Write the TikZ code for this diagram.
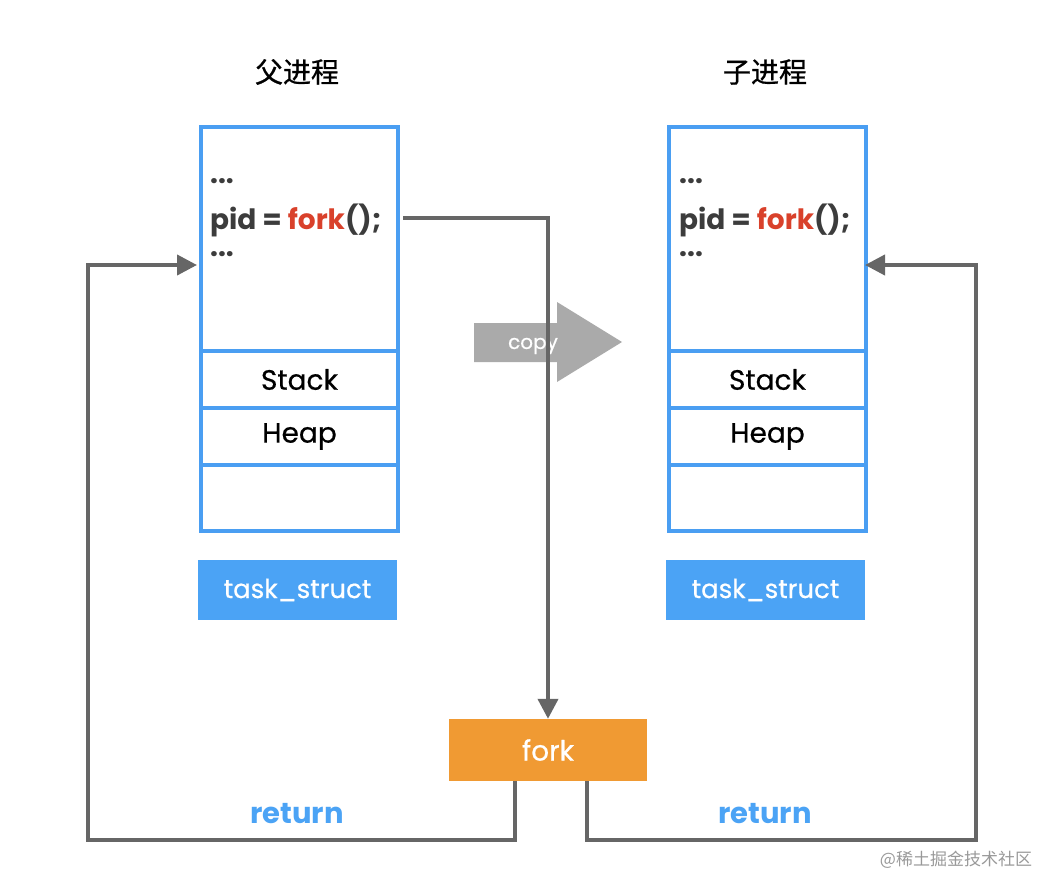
\documentclass[tikz,border=0pt]{standalone}
\usepackage{fontspec}
\setmainfont{Poppins}
\newfontfamily\med[FakeBold=0.6]{Poppins}
\newfontfamily\cjk{Noto Sans CJK SC}
\newfontfamily\cjkmed[FakeBold=0.8]{Noto Sans CJK SC}
\usetikzlibrary{arrows.meta}
\definecolor{memblue}{HTML}{4A9EF2}
\definecolor{tsblue}{HTML}{4BA3F5}
\definecolor{linegray}{HTML}{666666}
\definecolor{copygray}{HTML}{AAAAAA}
\definecolor{forkorange}{HTML}{F09A33}
\definecolor{codegray}{HTML}{3C3C3C}
\definecolor{codered}{HTML}{D9412B}
\begin{document}
\begin{tikzpicture}[x=1pt,y=-1pt,
  memcell/.style={draw=memblue,line width=4pt,minimum width=197pt,inner sep=0pt,anchor=north west},
  segtext/.style={font=\med\fontsize{28}{30}\selectfont,text=black},
  tsbox/.style={fill=tsblue,minimum width=199pt,minimum height=60pt,inner sep=0pt,text=white,font=\med\fontsize{26}{30}\selectfont},
  forkbox/.style={fill=forkorange,minimum width=198pt,minimum height=62pt,inner sep=0pt,text=white,font=\med\fontsize{28}{30}\selectfont},
  conn/.style={draw=linegray,line width=4pt},
  arr/.style={conn,-{Triangle[length=20pt,width=20pt]}},
  title/.style={font=\cjkmed\fontsize{28}{32}\selectfont},
  ret/.style={text=tsblue,font=\bfseries\fontsize{29}{32}\selectfont},
  code/.style={anchor=west,text=codegray,font=\bfseries\fontsize{28}{30}\selectfont,inner sep=0pt}
]
\useasboundingbox (0,0) rectangle (1062,896);

% titles
\node[title] (t1) at (297,72) {父进程};
\node[title] (t2) at (765,72) {子进程};

% copy arrow (drawn first, underneath connector)
\fill[copygray] (474,323) -- (557,323) -- (557,302) -- (622,342) -- (557,382) -- (557,362) -- (474,362) -- cycle;
\node[text=white,font=\med\fontsize{20}{22}\selectfont] (cp) at (533,346) {copy};

% left memory
\node[memcell,minimum height=224pt] (lcode) at (199,125) {};
\node[memcell,minimum height=57pt] (lstack) at (199,349) {};
\node[memcell,minimum height=57pt] (lheap) at (199,406) {};
\node[memcell,minimum height=66pt] (lfree) at (199,463) {};
\node[segtext] at (lstack.center) {Stack};
\node[segtext] at (lheap.center) {Heap};
\node[code] (ld1) at (210,181) {...};
\node[code] (lpid) at (210,220) {pid = \textcolor{codered}{fork}();};
\node[code] (ld2) at (210,254) {...};
\node[tsbox] (lts) at (297.5,590) {task\_struct};

% right memory
\node[memcell,minimum height=224pt] (rcode) at (667,125) {};
\node[memcell,minimum height=57pt] (rstack) at (667,349) {};
\node[memcell,minimum height=57pt] (rheap) at (667,406) {};
\node[memcell,minimum height=66pt] (rfree) at (667,463) {};
\node[segtext] at (rstack.center) {Stack};
\node[segtext] at (rheap.center) {Heap};
\node[code] (rd1) at (679,181) {...};
\node[code] (rpid) at (679,220) {pid = \textcolor{codered}{fork}();};
\node[code] (rd2) at (679,254) {...};
\node[tsbox] (rts) at (765.5,590) {task\_struct};

% fork
\node[forkbox] (fork) at (548,750) {fork};

% connectors
\coordinate (pidout) at (403,218);
\draw[arr] (pidout) -| (fork.north);
\coordinate (lin) at (197,265);
\coordinate (rin) at (865,265);
\draw[arr] ([xshift=-33pt]fork.south) |- (88,840) |- (lin);
\draw[arr] ([xshift=39pt]fork.south) |- (976,840) |- (rin);

\node[ret] (r1) at (297,814) {return};
\node[ret] (r2) at (765,814) {return};

\node[text=gray!80,font=\cjk\fontsize{17}{20}\selectfont] (wm) at (956,860) {@稀土掘金技术社区};
\end{tikzpicture}
\end{document}
